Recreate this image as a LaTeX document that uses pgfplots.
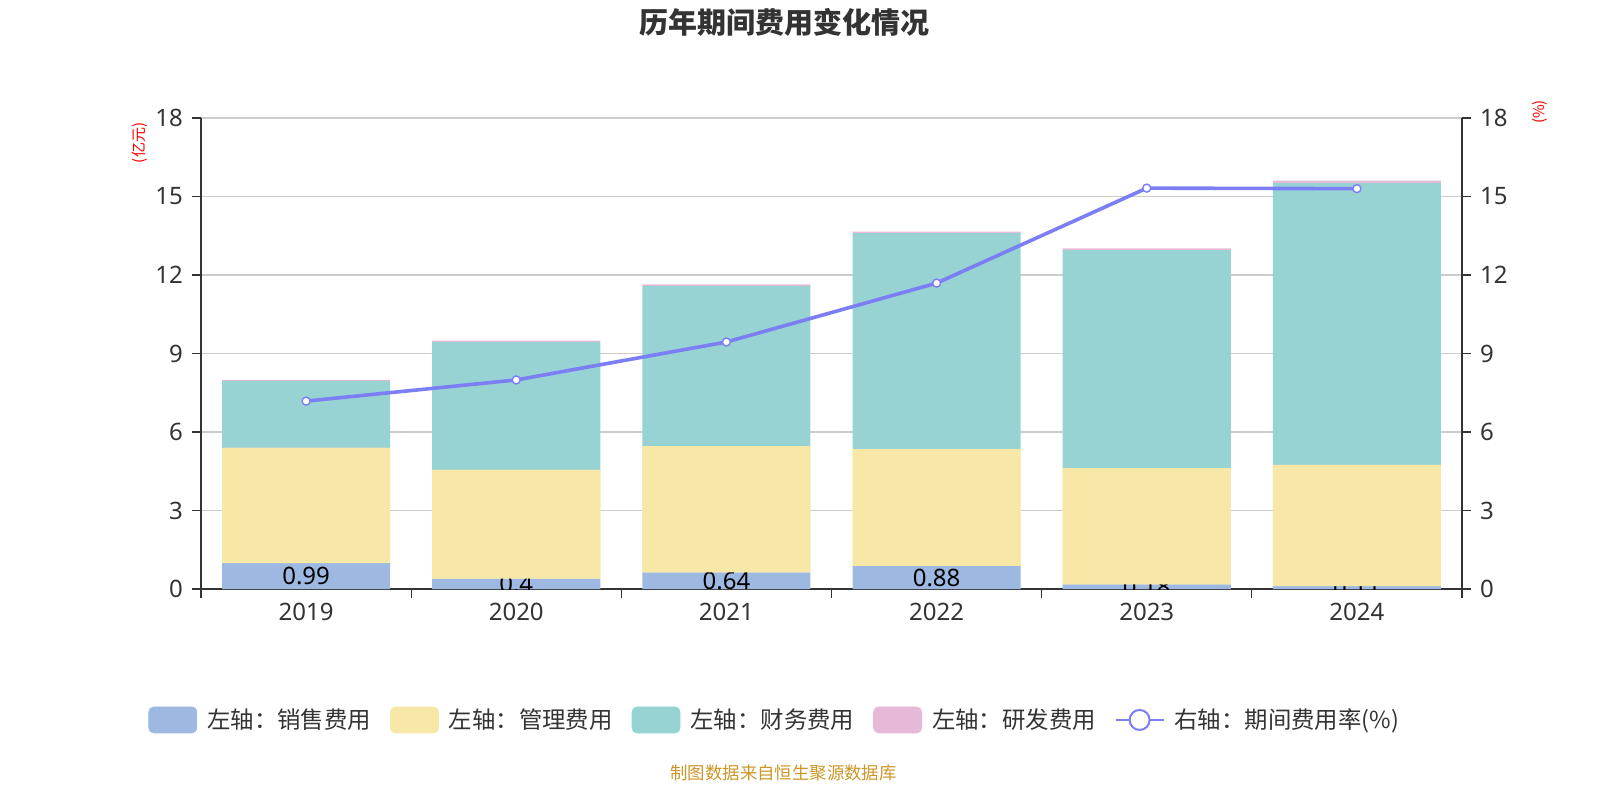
\documentclass[border=0pt]{standalone}
\usepackage{pgfplots}
\pgfplotsset{compat=1.18}
\usepackage{fontspec}
\setmainfont{Noto Sans CJK SC}
\newfontfamily\numfont{Noto Sans}
\definecolor{cSale}{HTML}{9DB8E1}
\definecolor{cAdmin}{HTML}{F8E8A8}
\definecolor{cFin}{HTML}{98D3D4}
\definecolor{cRD}{HTML}{E6B9D8}
\definecolor{cLine}{HTML}{7B7FF3}
\definecolor{cAxis}{HTML}{333333}
\definecolor{cGrid}{HTML}{CCCCCC}
\definecolor{cSrc}{HTML}{CC9628}
\begin{document}
\begin{tikzpicture}[x=1pt,y=1pt]
\pgfplotsset{
  base/.style={
    at={(100.5pt,105.5pt)}, anchor=south west,
    scale only axis, width=630.5pt, height=235.5pt,
    xmin=-0.5, xmax=5.5, ymin=0, ymax=18,
    ytick={0,3,...,18},
    tick label style={font=\numfont\fontsize{12}{14}\selectfont, color=cAxis},
    /pgf/number format/assume math mode=true,
    axis line style={cAxis, line width=0.6pt},
    major tick style={cAxis, line width=0.6pt},
    major tick length=4.5pt,
    tick align=outside,
  },
  hidden/.style={axis lines=none, ticks=none},
}
% bars
\begin{axis}[base,
  ybar stacked, bar width=0.8,
  axis x line*=bottom, axis y line*=left,
  xtick={-0.5,0.5,...,5.5},
  x tick label as interval,
  xticklabels={2019,2020,2021,2022,2023,2024},
  ymajorgrids, grid style={cGrid, line width=0.6pt},
  yticklabel style={xshift=-1pt},
  xticklabel style={yshift=1pt},
]
\addplot+[draw=none, fill=cSale]
  coordinates {(0,0.99) (1,0.40) (2,0.64) (3,0.88) (4,0.18) (5,0.11)};
\addplot+[draw=none, fill=cAdmin]
  coordinates {(0,4.40) (1,4.15) (2,4.82) (3,4.47) (4,4.44) (5,4.63)};
\addplot+[draw=none, fill=cFin]
  coordinates {(0,2.56) (1,4.89) (2,6.12) (3,8.25) (4,8.33) (5,10.77)};
\addplot+[draw=none, fill=cRD]
  coordinates {(0,0.04) (1,0.05) (2,0.06) (3,0.06) (4,0.07) (5,0.10)};
\end{axis}
% labels of the sales segment, centred in it, clipped at zero
\begin{axis}[base, hidden, clip mode=individual, clip marker paths=true]
\addplot[draw=none, mark=none, nodes near coords, point meta=explicit symbolic,
  nodes near coords style={anchor=center, font=\numfont\fontsize{12}{14}\selectfont, text=black}]
  coordinates {(0,0.495)[0.99] (1,0.20)[0.4] (2,0.32)[0.64] (3,0.44)[0.88] (4,0.09)[0.18] (5,0.055)[0.11]};
\end{axis}
% admin segment drawn again over the labels
\begin{axis}[base, hidden, ybar stacked, bar width=0.8]
\addplot+[draw=none, fill=none]
  coordinates {(0,0.99) (1,0.40) (2,0.64) (3,0.88) (4,0.18) (5,0.11)};
\addplot+[draw=none, fill=cAdmin]
  coordinates {(0,4.40) (1,4.15) (2,4.82) (3,4.47) (4,4.44) (5,4.63)};
\end{axis}
% right axis and line
\begin{axis}[base,
  axis x line=none, axis y line*=right,
  yticklabel style={xshift=1pt},
  legend style={at={(-0.042,-0.278)}, anchor=west, draw=none, fill=none,
    inner sep=0pt, legend columns=5,
    font=\fontsize{11.7}{13}\selectfont, text=cAxis,
    /tikz/every odd column/.append style={column sep=3pt},
    /tikz/every even column/.append style={column sep=7.5pt}},
  legend cell align=left,
]
\addlegendimage{legend image code/.code={\fill[cSale, rounded corners=2.5pt] (0pt,-6.5pt) rectangle (24pt,6.5pt);}}
\addlegendentry{左轴：销售费用}
\addlegendimage{legend image code/.code={\fill[cAdmin, rounded corners=2.5pt] (0pt,-6.5pt) rectangle (24pt,6.5pt);}}
\addlegendentry{左轴：管理费用}
\addlegendimage{legend image code/.code={\fill[cFin, rounded corners=2.5pt] (0pt,-6.5pt) rectangle (24pt,6.5pt);}}
\addlegendentry{左轴：财务费用}
\addlegendimage{legend image code/.code={\fill[cRD, rounded corners=2.5pt] (0pt,-6.5pt) rectangle (24pt,6.5pt);}}
\addlegendentry{左轴：研发费用}
\addplot[cLine, line width=1.8pt, mark=*, mark size=2pt,
  mark options={fill=white, draw=cLine, line width=0.7pt},
  legend image code/.code={\draw[cLine, line width=0.8pt] (0pt,0pt) -- (24pt,0pt);
    \draw[cLine, line width=1pt, fill=white] (12pt,0pt) circle (5pt);}]
  coordinates {(0,7.18) (1,7.99) (2,9.44) (3,11.69) (4,15.32) (5,15.30)};
\addlegendentry{右轴：期间费用率(\%)}
\end{axis}
\node[font=\fontsize{14.5}{16}\selectfont\bfseries, text=cAxis] at (392,389) {历年期间费用变化情况};
\node[font=\fontsize{8.7}{10}\selectfont, text=cSrc] at (391.75,13.5) {制图数据来自恒生聚源数据库};
\node[font=\fontsize{7.5}{9}\selectfont, text=red, rotate=90] at (70,328.5) {(亿元)};
\node[font=\fontsize{7.5}{9}\selectfont, text=red, rotate=90] at (770,344) {(\%)};
\pgfresetboundingbox
\path[use as bounding box] (0,0) rectangle (800,400);
\end{tikzpicture}
\end{document}
